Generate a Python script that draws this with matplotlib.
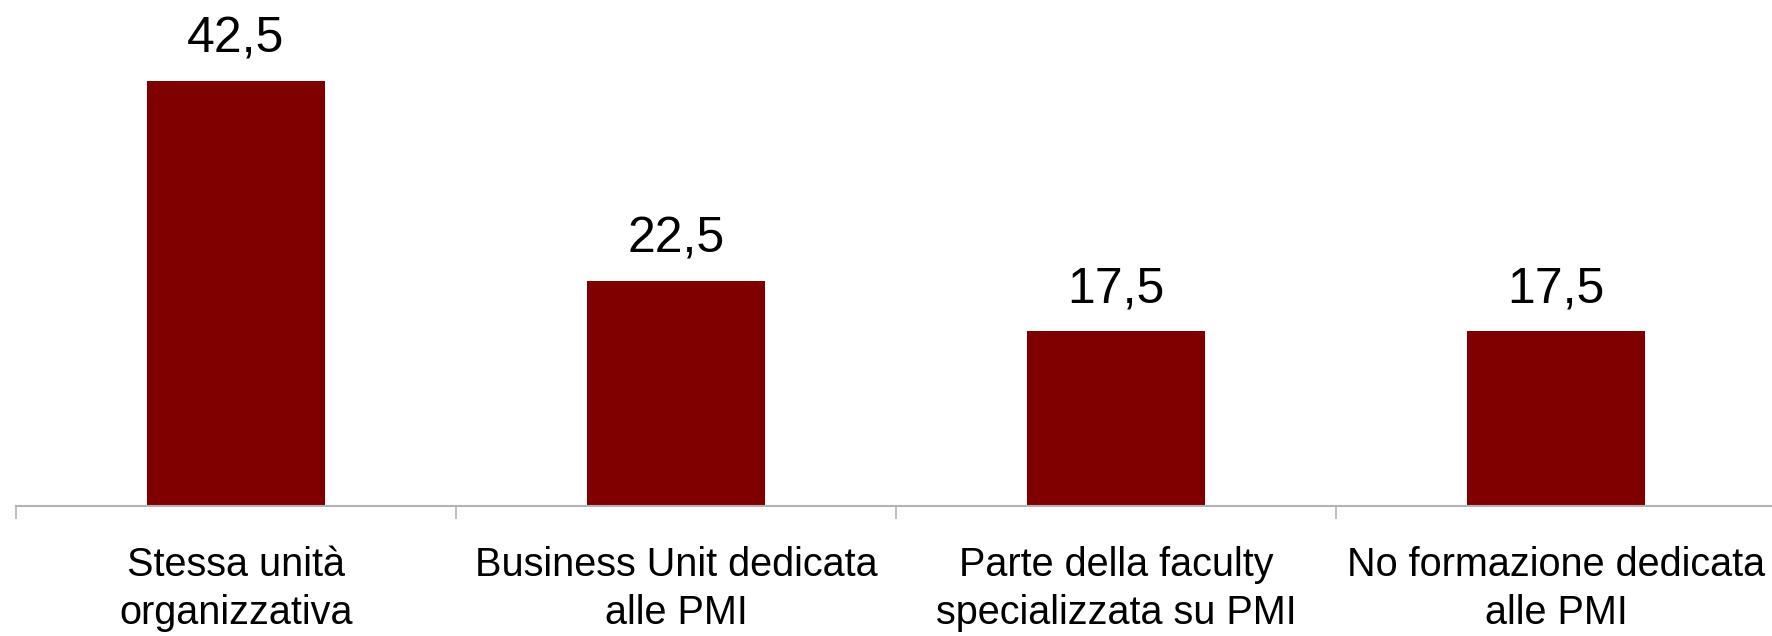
import matplotlib
matplotlib.use("Agg")
import matplotlib.pyplot as plt
import numpy as np

categories = ["Stessa unità\norganizzativa", "Business Unit dedicata\nalle PMI",
              "Parte della faculty\nspecializzata su PMI", "No formazione dedicata\nalle PMI"]
values = [42.5, 22.5, 17.5, 17.5]
value_labels = ["42,5", "22,5", "17,5", "17,5"]

plt.rcParams['font.family'] = ['Liberation Sans', 'DejaVu Sans']

W, H = 1772, 636
fig = plt.figure(figsize=(W/100, H/100), dpi=100)
left, right = 16/W, 1776/W
bottom, top = 1 - 505.7/H, 1 - 6/H
ax = fig.add_axes([left, bottom, right-left, top-bottom])

x = np.arange(len(values))
bars = ax.bar(x, values, width=0.405, color='#800000', zorder=2)
ax.set_xlim(-0.5, len(values)-0.5)
ax.set_ylim(0, 50)

for xi, v, lab in zip(x, values, value_labels):
    ax.annotate(lab, (xi, v), xytext=(0, 13.5), textcoords='offset points',
                ha='center', va='bottom', fontsize=36, color='black')

for s in ['top', 'right', 'left']:
    ax.spines[s].set_visible(False)
ax.spines['bottom'].set_color('#b4b4b4')
ax.spines['bottom'].set_linewidth(1.5)
ax.set_yticks([])
ax.set_xticks(np.arange(len(values)+1) - 0.5, minor=False)
ax.set_xticklabels([])
ax.tick_params(axis='x', which='major', length=9, color='#b4b4b4', width=1.2)
ax.set_xticks(x, minor=True)
ax.set_xticklabels(categories, minor=True, fontsize=28.5, linespacing=1.33)
ax.tick_params(axis='x', which='minor', length=0, pad=29)

fig.savefig('out.png', dpi=100)
